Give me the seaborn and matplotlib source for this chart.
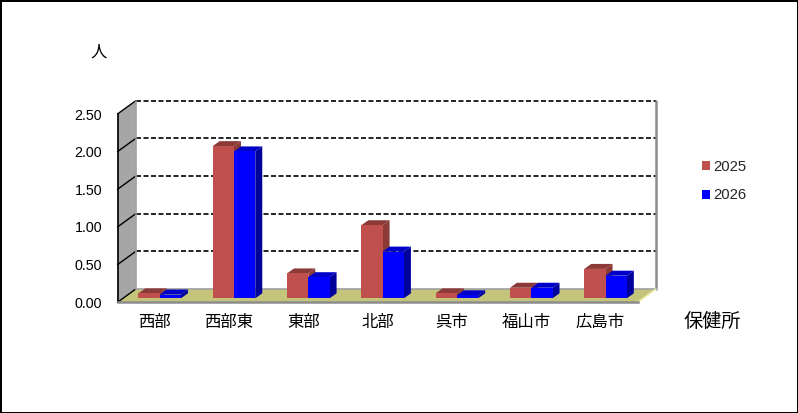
import matplotlib
matplotlib.use("Agg")
import matplotlib.pyplot as plt
import seaborn as sns
import pandas as pd
from matplotlib.patches import Polygon
from matplotlib.transforms import Affine2D, IdentityTransform

categories = ["西部", "西部東", "東部", "北部", "呉市", "福山市", "広島市"]
values_2025 = [0.065, 2.02, 0.33, 0.97, 0.065, 0.14, 0.39]
values_2026 = [0.05, 1.95, 0.28, 0.62, 0.04, 0.14, 0.30]
years = ["2025", "2026"]
yticks = [0.0, 0.5, 1.0, 1.5, 2.0, 2.5]

sns.set_theme(style="white")
CJK = ["Noto Sans CJK JP", "DejaVu Sans"]
LATIN = ["Liberation Sans", "DejaVu Sans"]
plt.rcParams["font.family"] = LATIN

W, H = 798, 413
fig = plt.figure(figsize=(W / 100, H / 100), dpi=100, facecolor="white",
                 edgecolor="black", linewidth=2)
x0, x1, y0, y1 = 117.5, 637.7, 302.3, 114.0
ax = fig.add_axes([x0 / W, (H - y0) / H, (x1 - x0) / W, (y0 - y1) / H])
ax.patch.set_alpha(0)

df = pd.DataFrame({
    "cat": categories * 2,
    "year": [years[0]] * len(categories) + [years[1]] * len(categories),
    "val": values_2025 + values_2026,
})
red, blue = "#C0504D", "#0000FF"
sns.barplot(data=df, x="cat", y="val", hue="year", ax=ax, palette=[red, blue],
            width=0.573, gap=0, saturation=1, legend=True, zorder=5,
            edgecolor="none", linewidth=0)

ax.set_xlim(-0.5, len(categories) - 0.5)
ax.set_ylim(min(yticks), max(yticks))
ax.set_xlabel("")
ax.set_ylabel("")

# --- 3-D shell: depth in pixels
DX, DY = 18.3, 13.3
back = Affine2D().translate(DX, DY)
ident = IdentityTransform()
disp = ax.transData.transform

def poly(pts, fc, z, ec="none", lw=0):
    ax.add_patch(Polygon(pts, closed=True, facecolor=fc, edgecolor=ec, linewidth=lw,
                         transform=ident, clip_on=False, zorder=z))

bl = disp((-0.5, 0)); br = disp((len(categories) - 0.5, 0)); tl = disp((-0.5, max(yticks)))
poly([bl, bl + (DX, DY), tl + (DX, DY), tl], "#A6A6A6", 1)
poly([bl, br, br + (DX, DY), bl + (DX, DY)], "#C4C47A", 1)

for v in yticks[1:]:
    ax.plot([0, 1], [v, v], transform=ax.get_yaxis_transform() + back, color="black",
            lw=1.2, ls=(0, (3, 1.5)), clip_on=False, zorder=2)
for v in yticks:
    p = disp((-0.5, v))
    ax.plot([p[0], p[0] + DX], [p[1], p[1] + DY], transform=ident, color="black",
            lw=1, clip_on=False, zorder=2)
ax.plot([tl[0] + DX, tl[0] + DX], [bl[1] + DY, tl[1] + DY], transform=ident,
        color="#A0A0A0", lw=1.2, clip_on=False, zorder=2)
ax.plot([br[0] + DX, br[0] + DX], [br[1] + DY, tl[1] + DY], transform=ident,
        color="#8C8C8C", lw=1.8, clip_on=False, zorder=2)
ax.plot([bl[0] + DX, br[0] + DX], [bl[1] + DY, br[1] + DY], transform=ident,
        color="#A0A0A0", lw=1.2, clip_on=False, zorder=2)
ax.plot([br[0], br[0] + DX], [br[1], br[1] + DY], transform=ident,
        color="#EDEDB0", lw=1.2, clip_on=False, zorder=2)

# --- 3-D bars
shift = Affine2D().translate(5, 4)
bd_x, bd_y = 7, 5
shades = [("#8B3A38", "#8B3A38"), ("#00009B", "#0000C8")]
for i, cont in enumerate(ax.containers):
    side_c, top_c = shades[i]
    for rect in cont:
        z = 5 + i * 2
        a = disp((rect.get_x(), 0)) + (5, 4)
        b = disp((rect.get_x() + rect.get_width(), rect.get_height())) + (5, 4)
        rect.set_zorder(z + 1)
        rect.set_transform(rect.get_data_transform() + shift)
        rect.set_clip_on(False)
        poly([(b[0], a[1]), (b[0] + bd_x, a[1] + bd_y), (b[0] + bd_x, b[1] + bd_y), (b[0], b[1])], side_c, z)
        poly([(a[0], b[1]), (b[0], b[1]), (b[0] + bd_x, b[1] + bd_y), (a[0] + bd_x, b[1] + bd_y)], side_c if i == 0 else top_c, z)

# --- axes
for s in ["top", "right"]:
    ax.spines[s].set_visible(False)
ax.spines["left"].set_color("black")
ax.spines["left"].set_linewidth(1.2)
ax.spines["bottom"].set_color("#8C8C8C")
ax.spines["bottom"].set_linewidth(1.8)
ax.set_yticks(yticks)
ax.set_yticklabels([f"{v:.2f}" for v in yticks], fontsize=10.3, color="black")
ax.tick_params(axis="y", length=0, pad=11)
ax.set_xticks(range(len(categories)))
ax.set_xticklabels(categories, fontsize=11.8, family=CJK, color="black")
ax.tick_params(axis="x", which="major", length=0, pad=8.5)
ax.set_xticks([i - 0.5 for i in range(len(categories) + 1)], minor=True)
ax.tick_params(axis="x", which="minor", direction="in", length=5, width=1, color="black", bottom=True)

leg = ax.legend(loc="center left", bbox_to_anchor=(701.5 / W, (H - 181) / H),
                bbox_transform=fig.transFigure, frameon=False, fontsize=10.7,
                handlelength=0.56, handleheight=0.56, handletextpad=0.22, labelspacing=1.0,
                borderpad=0, borderaxespad=0)

fig.text(99 / W, 1 - 52 / H, "人", fontsize=11.8, family=CJK, ha="center", va="center", color="black")
fig.text(712 / W, 1 - 321 / H, "保健所", fontsize=13.8, family=CJK, ha="center", va="center", color="black")

fig.savefig("out.png", dpi=100)
